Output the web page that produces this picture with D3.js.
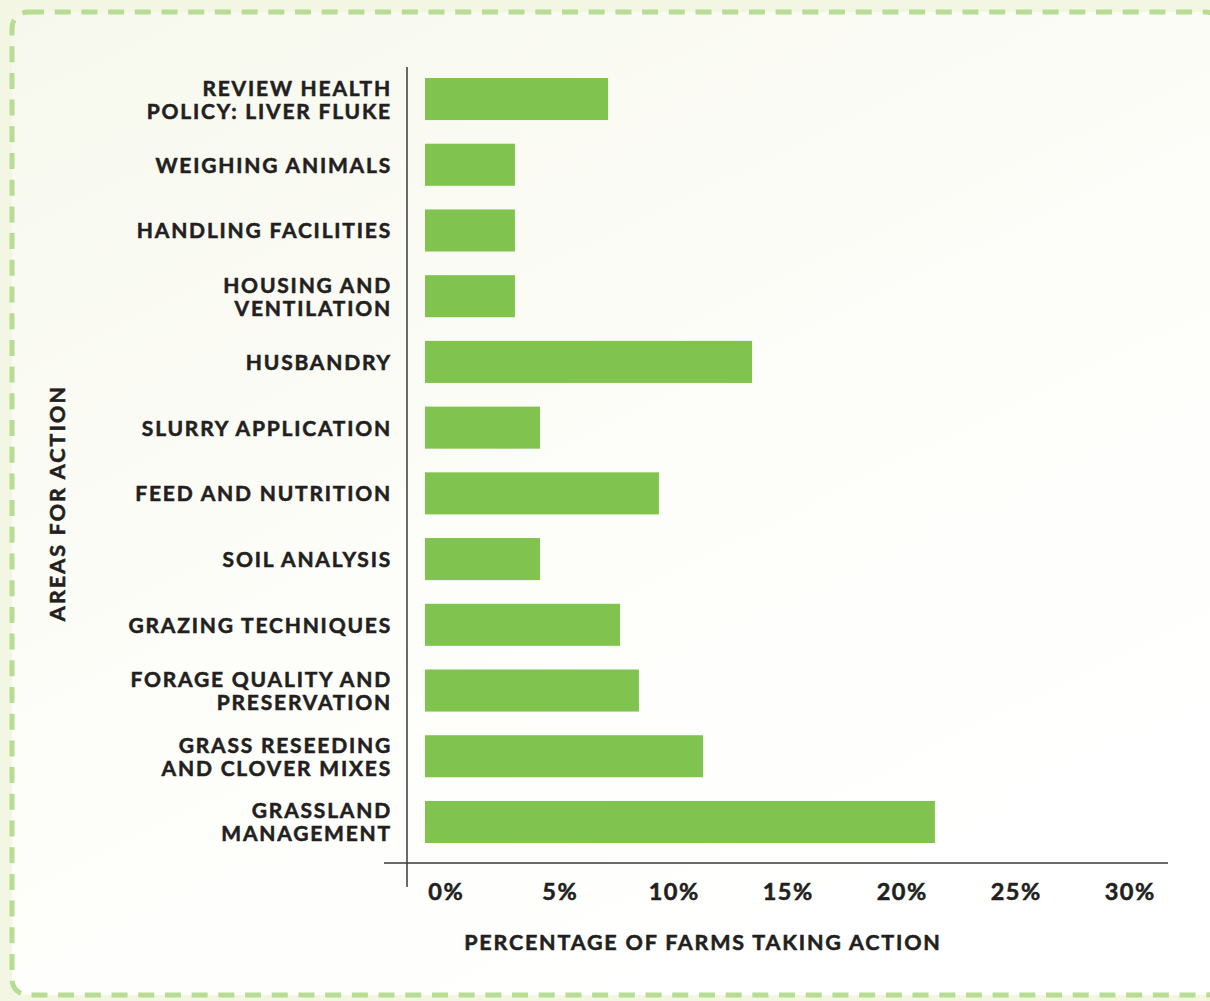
<!DOCTYPE html>
<html>
<head>
<meta charset="utf-8">
<script src="https://cdn.jsdelivr.net/npm/d3@7"></script>
<style>
  html, body { margin: 0; padding: 0; background: #f3f6e3; }
  svg { display: block; }
  text { font-family: Lato, "Open Sans", sans-serif; font-weight: 700; fill: #231f20; stroke: #231f20; stroke-width: 0.55px; }
</style>
</head>
<body>
<svg id="chart" width="1210" height="1001"></svg>
<script>
// ---- data ----
const categories = [
  ["REVIEW HEALTH", "POLICY: LIVER FLUKE"],
  ["WEIGHING ANIMALS"],
  ["HANDLING FACILITIES"],
  ["HOUSING AND", "VENTILATION"],
  ["HUSBANDRY"],
  ["SLURRY APPLICATION"],
  ["FEED AND NUTRITION"],
  ["SOIL ANALYSIS"],
  ["GRAZING TECHNIQUES"],
  ["FORAGE QUALITY AND", "PRESERVATION"],
  ["GRASS RESEEDING", "AND CLOVER MIXES"],
  ["GRASSLAND", "MANAGEMENT"]
];
const values = [7.96, 3.91, 3.91, 3.91, 14.22, 5.0, 10.17, 5.0, 8.48, 9.3, 12.09, 22.17];
const tickValues = [0, 5, 10, 15, 20, 25, 30];
const tickLabels = ["0%", "5%", "10%", "15%", "20%", "25%", "30%"];
const xTitle = "PERCENTAGE OF FARMS TAKING ACTION";
const yTitle = "AREAS FOR ACTION";

const svg = d3.select("#chart");

// ---- background frame ----
const defs = svg.append("defs");
const grad = defs.append("linearGradient").attr("id", "bg")
  .attr("x1", "0").attr("y1", "0").attr("x2", "0.6").attr("y2", "1");
grad.append("stop").attr("offset", "0").attr("stop-color", "#f7f8ed");
grad.append("stop").attr("offset", "0.55").attr("stop-color", "#fdfdf9");
grad.append("stop").attr("offset", "1").attr("stop-color", "#ffffff");

svg.append("rect").attr("width", 1210).attr("height", 1001).attr("fill", "#f3f6e3");
svg.append("rect")
  .attr("x", 12).attr("y", 12).attr("width", 1210).attr("height", 983)
  .attr("rx", 16).attr("ry", 16)
  .attr("fill", "url(#bg)")
  .attr("stroke", "#b6dd93").attr("stroke-width", 5)
  .attr("stroke-dasharray", "16 10.7");

// ---- scales ----
const x = d3.scaleLinear().domain([0, 30]).range([425, 1115]);
const xLabel = d3.scaleLinear().domain([0, 30]).range([445, 1129]);
const idx = categories.map((d, i) => i);
const y = d3.scaleBand().domain(idx).range([78, 843]).paddingInner(0.36).paddingOuter(0);

// ---- bars ----
svg.append("g").selectAll("rect").data(values).join("rect")
  .attr("x", x(0))
  .attr("y", (d, i) => y(i))
  .attr("width", d => x(d) - x(0))
  .attr("height", y.bandwidth())
  .attr("fill", "#80c34e");

// ---- axis lines ----
svg.append("line").attr("x1", 407).attr("x2", 407).attr("y1", 67).attr("y2", 887)
  .attr("stroke", "#3a3a3a").attr("stroke-width", 1.5);
svg.append("line").attr("x1", 384).attr("x2", 1168).attr("y1", 863).attr("y2", 863)
  .attr("stroke", "#3a3a3a").attr("stroke-width", 1.5);

// ---- x axis tick labels ----
const xAxis = d3.axisBottom(xLabel).tickValues(tickValues)
  .tickFormat((d, i) => tickLabels[i]).tickSize(0).tickPadding(0);
const gx = svg.append("g").attr("transform", "translate(0,900)").call(xAxis);
gx.select(".domain").remove();
gx.selectAll("text")
  .attr("dy", 0).attr("y", 0).attr("dx", "0.75px")
  .style("font-family", "Lato, sans-serif").style("font-weight", 700)
  .style("font-size", "23.5px").style("letter-spacing", "1.5px")
  .style("fill", "#231f20").style("stroke", "#231f20").style("stroke-width", "0.55px");

// ---- category labels ----
const lineH = 23;
const gl = svg.append("g");
categories.forEach((lines, i) => {
  const cy = y(i) + y.bandwidth() / 2;
  const n = lines.length;
  const t = gl.append("text")
    .attr("text-anchor", "end")
    .attr("font-size", 21)
    .style("letter-spacing", "1.8px");
  lines.forEach((ln, j) => {
    t.append("tspan")
      .attr("x", 392)
      .attr("y", cy + 8 + (j - (n - 1) / 2) * lineH)
      .text(ln);
  });
});

// ---- titles ----
svg.append("text").attr("x", 703).attr("y", 950)
  .attr("text-anchor", "middle").attr("font-size", 21.5)
  .style("letter-spacing", "1.8px").text(xTitle);
svg.append("text")
  .attr("transform", "translate(65,503) rotate(-90)")
  .attr("text-anchor", "middle").attr("font-size", 21.5)
  .style("letter-spacing", "2.1px").text(yTitle);
</script>
</body>
</html>
